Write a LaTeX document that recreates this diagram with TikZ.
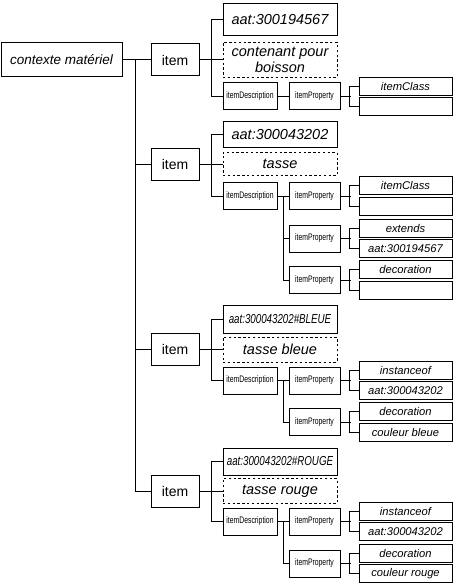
\documentclass[tikz,border=0pt]{standalone}
\usepackage{fontspec}
\setmainfont{Liberation Sans}
\usetikzlibrary{positioning}
\newcommand{\narrowtext}[1]{\scalebox{0.72}[1]{#1}}
\tikzset{box/.style={draw,line width=1pt,inner sep=1pt,align=center},
 rootbox/.style={box,minimum width=121pt,minimum height=34pt,font=\fontsize{13.5}{15}\selectfont\itshape},
 itembox/.style={box,minimum width=48pt,minimum height=32pt,font=\fontsize{14}{15}\selectfont},
 idbox/.style={box,minimum width=114pt,font=\fontsize{14.5}{15.5}\selectfont\itshape},
 namebox/.style={idbox,dash pattern=on 2.4pt off 2.4pt},
 descbox/.style={box,minimum width=54pt,minimum height=27pt,font=\fontsize{9.5}{10}\selectfont},
 propbox/.style={box,minimum width=51pt,minimum height=27pt,font=\fontsize{9.5}{10}\selectfont},
 valbox/.style={box,minimum width=93pt,minimum height=18pt,font=\fontsize{11.2}{12}\selectfont\itshape},
 link/.style={line width=1pt}}

\begin{document}
\begin{tikzpicture}[x=1pt,y=-1pt]
\useasboundingbox (0,0) rectangle (460,583);
% root and items
\node[rootbox] (root) at (61.5,60) {contexte matériel};
\node[itembox] (item1) at (175,60) {item};
\node[itembox] (item2) at (175,164) {item};
\node[itembox] (item3) at (175,349.5) {item};
\node[itembox] (item4) at (175,491) {item};
\coordinate (trunk) at (135,60);
\draw[link] (root) -- (item1);
\draw[link] (trunk) |- (item2);
\draw[link] (trunk) |- (item3);
\draw[link] (trunk) |- (item4);

% first item
\node[idbox,minimum height=32pt] (id1) at (280,20) {aat:300194567};
\node[namebox,minimum height=35pt] (name1) at (280,60) {contenant pour\\boisson};
\node[descbox] (desc1) at (250,96.5) {\narrowtext{itemDescription}};
\node[propbox] (prop1a) at (314.5,96.5) {\narrowtext{itemProperty}};
\node[valbox] (prop1a-k) at (405.5,86.25) {itemClass};
\node[valbox] (prop1a-v) at (405.5,106.75) {};
\draw[link] (item1) -- (name1) (id1.west) -- ++(-11,0) |- (desc1);
\draw[link] (desc1) -- (prop1a);
\draw[link] (prop1a.east) -- ++(10,0) (prop1a-k.west) -- ++(-9,0) |- (prop1a-v);

% second item
\node[idbox,minimum height=25pt] (id2) at (280,134.5) {aat:300043202};
\node[namebox,minimum height=23pt] (name2) at (280,164) {tasse};
\node[descbox] (desc2) at (250,196) {\narrowtext{itemDescription}};
\node[propbox] (prop2a) at (314.5,196) {\narrowtext{itemProperty}};
\node[propbox] (prop2b) at (314.5,238.5) {\narrowtext{itemProperty}};
\node[propbox] (prop2c) at (314.5,280) {\narrowtext{itemProperty}};
\node[valbox] (prop2a-k) at (405.5,185.75) {itemClass};
\node[valbox] (prop2a-v) at (405.5,206.25) {};
\node[valbox] (prop2b-k) at (405.5,228.25) {extends};
\node[valbox] (prop2b-v) at (405.5,248.75) {aat:300194567};
\node[valbox] (prop2c-k) at (405.5,269.75) {decoration};
\node[valbox] (prop2c-v) at (405.5,290.25) {};
\draw[link] (item2) -- (name2) (id2.west) -- ++(-11,0) |- (desc2);
\draw[link] (desc2) -- (prop2a) (desc2.east) ++(6,0) |- (prop2b)
 (desc2.east) ++(6,0) |- (prop2c);
\draw[link] (prop2a.east) -- ++(10,0) (prop2a-k.west) -- ++(-9,0) |- (prop2a-v);
\draw[link] (prop2b.east) -- ++(10,0) (prop2b-k.west) -- ++(-9,0) |- (prop2b-v);
\draw[link] (prop2c.east) -- ++(10,0) (prop2c-k.west) -- ++(-9,0) |- (prop2c-v);

% third item
\node[idbox,minimum height=28pt,font=\fontsize{13}{14}\selectfont\itshape] (id3) at (280,319)
 {\scalebox{0.75}[1]{aat:300043202\#BLEUE}};
\node[namebox,minimum height=25pt] (name3) at (280,349.5) {tasse bleue};
\node[descbox] (desc3) at (250,380.5) {\narrowtext{itemDescription}};
\node[propbox] (prop3a) at (314.5,380.5) {\narrowtext{itemProperty}};
\node[propbox] (prop3b) at (314.5,422) {\narrowtext{itemProperty}};
\node[valbox] (prop3a-k) at (405.5,370.25) {instanceof};
\node[valbox] (prop3a-v) at (405.5,390.75) {aat:300043202};
\node[valbox] (prop3b-k) at (405.5,411.75) {decoration};
\node[valbox] (prop3b-v) at (405.5,432.25) {couleur bleue};
\draw[link] (item3) -- (name3) (id3.west) -- ++(-11,0) |- (desc3);
\draw[link] (desc3) -- (prop3a) (desc3.east) ++(6,0) |- (prop3b);
\draw[link] (prop3a.east) -- ++(10,0) (prop3a-k.west) -- ++(-9,0) |- (prop3a-v);
\draw[link] (prop3b.east) -- ++(10,0) (prop3b-k.west) -- ++(-9,0) |- (prop3b-v);

% fourth item
\node[idbox,minimum height=27pt,font=\fontsize{13}{14}\selectfont\itshape] (id4) at (280,461.5)
 {\scalebox{0.75}[1]{aat:300043202\#ROUGE}};
\node[namebox,minimum height=25pt] (name4) at (280,491) {tasse rouge};
\node[descbox] (desc4) at (250,521.5) {\narrowtext{itemDescription}};
\node[propbox] (prop4a) at (314.5,521.5) {\narrowtext{itemProperty}};
\node[propbox] (prop4b) at (314.5,563.5) {\narrowtext{itemProperty}};
\node[valbox] (prop4a-k) at (405.5,511.25) {instanceof};
\node[valbox] (prop4a-v) at (405.5,531.75) {aat:300043202};
\node[valbox] (prop4b-k) at (405.5,553.25) {decoration};
\node[valbox] (prop4b-v) at (405.5,573.75) {couleur rouge};
\draw[link] (item4) -- (name4) (id4.west) -- ++(-11,0) |- (desc4);
\draw[link] (desc4) -- (prop4a) (desc4.east) ++(6,0) |- (prop4b);
\draw[link] (prop4a.east) -- ++(10,0) (prop4a-k.west) -- ++(-9,0) |- (prop4a-v);
\draw[link] (prop4b.east) -- ++(10,0) (prop4b-k.west) -- ++(-9,0) |- (prop4b-v);
\end{tikzpicture}
\end{document}
